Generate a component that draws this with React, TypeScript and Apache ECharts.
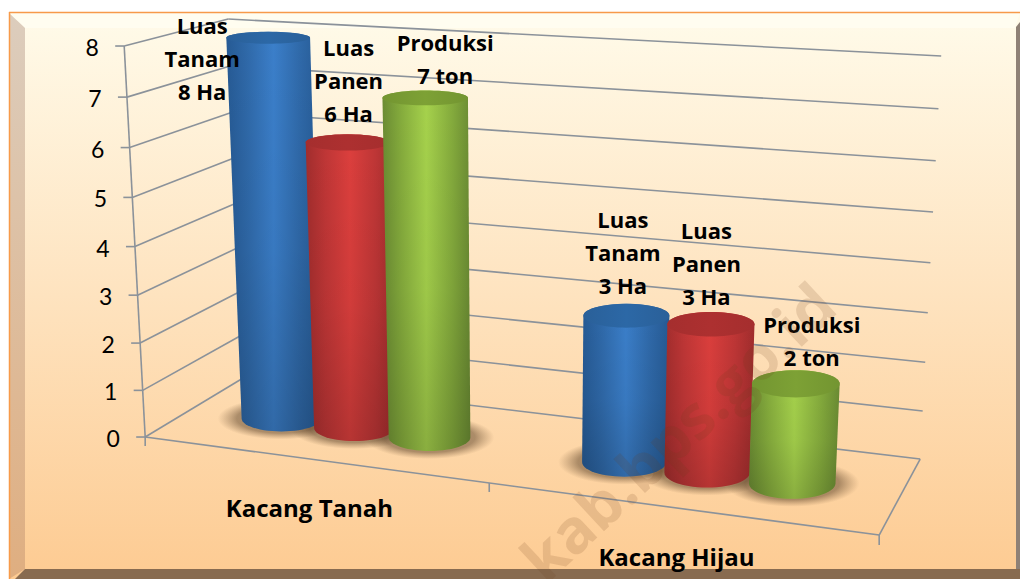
import React, { useEffect, useRef } from "react";
import * as echarts from "echarts";

const categories = ["Kacang Tanah", "Kacang Hijau"];
const yTicks = [0, 1, 2, 3, 4, 5, 6, 7, 8];
const luasTanam = [8, 3];
const luasPanen = [6, 3];
const produksi = [7, 2];
const tanamLabels = ["Luas\nTanam\n8 Ha", "Luas\nTanam\n3 Ha"];
const panenLabels = ["Luas\nPanen\n6 Ha", "Luas\nPanen\n3 Ha"];
const produksiLabels = ["Produksi\n7 ton", "Produksi\n2 ton"];

const FONT = "Lato, Carlito, 'Open Sans', sans-serif";
const BOLD_FONT = "'Open Sans', Lato, sans-serif";
const GRID = { left: 145, top: 46, width: 734, height: 391 };
type P = [number, number];
const CORNERS: Record<string, P> = {
  fb0: [145, 437], fb1: [879, 535], bb0: [243, 378], bb1: [920, 459],
  ft0: [124, 46], ft1: [900, 95], bt0: [228, 19], bt1: [941, 56],
};
const lerp = (a: number, b: number, t: number) => a + (b - a) * t;
const lerpP = (a: P, b: P, t: number): P => [lerp(a[0], b[0], t), lerp(a[1], b[1], t)];

// Perspective of the 3D box: u along categories, v up the value axis, w into the depth
const warpU = (u: number) => u - 0.031 + 0.125 * (u - 0.5) * (u - 0.5);
const warpV = (v: number) => v - 0.052 * v * (1 - v);
function project(uRaw: number, vRaw: number, w: number): P {
  const u = warpU(uRaw);
  const v = warpV(vRaw);
  const b = lerpP(lerpP(CORNERS.fb0, CORNERS.fb1, u), lerpP(CORNERS.bb0, CORNERS.bb1, u), w);
  const t = lerpP(lerpP(CORNERS.ft0, CORNERS.ft1, u), lerpP(CORNERS.bt0, CORNERS.bt1, u), w);
  return lerpP(b, t, v);
}
const normU = (x: number) => (x - GRID.left) / GRID.width;
const normV = (y: number) => (GRID.top + GRID.height - y) / GRID.height;

const AXIS_COLOR = "#8b929a";
const lineEl = (a: P, b: P, width = 1.6) => ({
  type: "line",
  shape: { x1: a[0], y1: a[1], x2: b[0], y2: b[1] },
  style: { stroke: AXIS_COLOR, lineWidth: width, fill: null },
  silent: true,
});

const BAR_STEP = 0.112;
const BAR_RX = 0.0582;
const BAR_RY = 0.21;

function cylinderGeom(api: any, step: number) {
  const c = api.coord([api.value(0), api.value(1)]);
  const u = normU(c[0]) + step * BAR_STEP + 0.0005;
  const v = normV(c[1]);
  const rOf = (vv: number) => {
    const centre = project(u, vv, 0.5);
    const span = project(1, vv, 0.5)[0] - project(0, vv, 0.5)[0];
    const f = project(u, vv, 0);
    const k = project(u, vv, 1);
    return { cx: centre[0], cy: centre[1], rx: span * BAR_RX * (0.95 + 0.12 * u), ry: (f[1] - k[1]) * BAR_RY };
  };
  return { top: rOf(v), base: rOf(0) };
}

const PALETTE = [
  { rim: "#265a94", edge: "#2f69a9", mid: "#3b7fca", cap: "#2a6099", capHi: "#2c68a6" },
  { rim: "#a12d2d", edge: "#bf3636", mid: "#dc3f3d", cap: "#a52e2e", capHi: "#ad3030" },
  { rim: "#6b8c33", edge: "#86ad3d", mid: "#a6d24c", cap: "#739531", capHi: "#7da135" },
];

function cylinderItem(step: number, colorIdx: number, labels: string[], dx: number[], dy: number[]) {
  return (params: any, api: any) => {
    const { top, base } = cylinderGeom(api, step);
    const pal = PALETTE[colorIdx];
    const pts: P[] = [];
    const N = 28;
    for (let i = 0; i <= N; i++) {
      const a = Math.PI - (Math.PI * i) / N;
      pts.push([top.cx + top.rx * Math.cos(a), top.cy - top.ry * Math.sin(a)]);
    }
    for (let i = 0; i <= N; i++) {
      const a = (Math.PI * i) / N;
      pts.push([base.cx + base.rx * Math.cos(a), base.cy + base.ry * Math.sin(a)]);
    }
    const idx = params.dataIndex;
    return {
      type: "group",
      children: [
        {
          type: "polygon",
          shape: { points: pts },
          style: {
            fill: new echarts.graphic.LinearGradient(0, 0, 1, 0, [
              { offset: 0, color: pal.rim },
              { offset: 0.22, color: pal.edge },
              { offset: 0.5, color: pal.mid },
              { offset: 0.78, color: pal.edge },
              { offset: 1, color: pal.rim },
            ]),
          },
          silent: true,
        },
        {
          type: "polygon",
          shape: { points: pts },
          style: {
            fill: new echarts.graphic.LinearGradient(0, 0, 0, 1, [
              { offset: 0, color: "rgba(0,0,0,0)" },
              { offset: 0.55, color: "rgba(0,0,0,0.05)" },
              { offset: 1, color: "rgba(0,0,0,0.17)" },
            ]),
          },
          silent: true,
        },
        {
          type: "ellipse",
          shape: { cx: top.cx, cy: top.cy, rx: top.rx, ry: top.ry },
          style: {
            fill: new echarts.graphic.LinearGradient(0, 0, 1, 0, [
              { offset: 0, color: pal.cap },
              { offset: 0.5, color: pal.capHi },
              { offset: 1, color: pal.cap },
            ]),
          },
          silent: true,
        },
        {
          type: "text",
          silent: true,
          style: {
            x: top.cx + dx[idx],
            y: top.cy + dy[idx],
            text: labels[idx],
            fill: "#000",
            font: `bold 22px ${BOLD_FONT}`,
            lineHeight: 33,
            align: "center",
            verticalAlign: "bottom",
          },
        },
      ],
    };
  };
}

function shadowItem(step: number) {
  return (_: any, api: any) => {
    const { base } = cylinderGeom(api, step);
    return {
      type: "ellipse",
      silent: true,
      shape: { cx: base.cx, cy: base.cy, rx: base.rx + 24, ry: base.ry + 8 },
      style: {
        fill: new echarts.graphic.RadialGradient(0.5, 0.5, 0.5, [
          { offset: 0, color: "rgba(85,60,35,0.6)" },
          { offset: 0.7, color: "rgba(90,65,40,0.5)" },
          { offset: 1, color: "rgba(120,90,60,0)" },
        ]),
      },
    };
  };
}

function gridItem(_: any, api: any) {
  const c = api.coord([0, api.value(1)]);
  const v = normV(c[1]);
  const f = project(0, v, 0);
  const b = project(0, v, 1);
  const r = project(1, v, 1);
  return {
    type: "group",
    children: [
      lineEl(f, b),
      lineEl(b, r),
      lineEl([f[0] - 9, f[1]], f),
      {
        type: "text",
        silent: true,
        style: {
          x: f[0] - 32,
          y: f[1] + 1,
          text: String(api.value(1)),
          fill: "#000",
          font: `23px ${FONT}`,
          align: "center",
          verticalAlign: "middle",
        },
      },
    ],
  };
}

function floorItem() {
  const a = project(0, 0, 0);
  const b = project(1, 0, 0);
  const d = project(1, 0, 1);
  const t = project(0, 1, 0);
  const m = project(0.5, 0, 0);
  return {
    type: "group",
    children: [
      lineEl(t, a),
      lineEl(a, b),
      lineEl(b, d),
      lineEl(a, [a[0], a[1] + 9]),
      lineEl(m, [m[0], m[1] + 9]),
      lineEl(b, [b[0], b[1] + 10]),
    ],
  };
}

function categoryItem(params: any, api: any) {
  const c = api.coord([api.value(0), 0]);
  const p = project(normU(c[0]), 0, 0);
  return {
    type: "text",
    silent: true,
    style: {
      x: p[0] - 2,
      y: p[1] + 48,
      text: categories[params.dataIndex],
      fill: "#000",
      font: `bold 24px ${BOLD_FONT}`,
      align: "center",
      verticalAlign: "middle",
    },
  };
}

const customBase = {
  type: "custom",
  coordinateSystem: "cartesian2d",
  clip: false,
  encode: { x: 0, y: 1 },
  silent: true,
};

const pairs = (vals: number[]) => vals.map((v, i) => [i, v]);

function buildOption() {
  const W = 1020;
  const H = 579;
  return {
    animation: false,
    backgroundColor: "#ffffff",
    grid: { ...GRID, containLabel: false },
    xAxis: { type: "category", data: categories, show: false },
    yAxis: { type: "value", min: 0, max: 8, interval: 1, show: false },
    graphic: [
      {
        type: "rect", z: -10, silent: true,
        shape: { x: 9, y: 12, width: W - 9, height: H - 12 },
        style: {
          fill: new echarts.graphic.LinearGradient(0, 0, 0, 1, [
            { offset: 0, color: "#fffbea" },
            { offset: 0.5, color: "#fee3bf" },
            { offset: 1, color: "#fdcb92" },
          ]),
        },
      },
      {
        type: "polygon", z: -9, silent: true,
        shape: { points: [[9, 13], [W, 13], [1015, 28], [25, 28]] },
        style: { fill: "#fffdf0" },
      },
      {
        type: "polygon", z: -9, silent: true,
        shape: { points: [[9, 13], [25, 28], [25, 569], [9, 579]] },
        style: {
          fill: new echarts.graphic.LinearGradient(0, 0, 0, 1, [
            { offset: 0, color: "#dccdbd" },
            { offset: 1, color: "#dfae80" },
          ]),
        },
      },
      {
        type: "polygon", z: -9, silent: true,
        shape: { points: [[25, 569], [W, 569], [W, H], [15, H]] },
        style: { fill: "#886b50" },
      },
      {
        type: "polygon", z: -9, silent: true,
        shape: { points: [[W, 22], [1016, 27], [1016, 569], [W, 569]] },
        style: { fill: "#8f8176" },
      },
      {
        type: "line", z: -8, silent: true,
        shape: { x1: 9, y1: 12.5, x2: W, y2: 12.5 },
        style: { stroke: "#f79a4a", lineWidth: 1.5 },
      },
      {
        type: "line", z: -8, silent: true,
        shape: { x1: 9.5, y1: 12, x2: 9.5, y2: H },
        style: { stroke: "#f79a4a", lineWidth: 1.5 },
      },
      {
        type: "text", z: 100, silent: true,
        x: 677, y: 431, rotation: (43 * Math.PI) / 180,
        style: {
          text: "kab.bps.go.id",
          fill: "rgba(110,60,30,0.15)",
          font: `bold 61px ${BOLD_FONT}`,
          align: "center",
          verticalAlign: "middle",
        },
      },
    ],
    series: [
      { ...customBase, name: "grid", data: yTicks.map((t) => [0, t]), renderItem: gridItem, z: 2 },
      { ...customBase, name: "floor", data: [[0, 0]], renderItem: floorItem, z: 2 },
      { ...customBase, name: "category", data: pairs([0, 0]), renderItem: categoryItem, z: 2 },
      { ...customBase, name: "s1", data: pairs(luasTanam), renderItem: shadowItem(-1), z: 3 },
      { ...customBase, name: "s2", data: pairs(luasPanen), renderItem: shadowItem(0), z: 3 },
      { ...customBase, name: "s3", data: pairs(produksi), renderItem: shadowItem(1), z: 3 },
      {
        ...customBase, name: "Luas Tanam", data: pairs(luasTanam), z: 4,
        renderItem: cylinderItem(-1, 0, tanamLabels, [-66, -3.5], [69.5, -14]),
      },
      {
        ...customBase, name: "Luas Panen", data: pairs(luasPanen), z: 5,
        renderItem: cylinderItem(0, 1, panenLabels, [1, -4.5], [-12.5, -11.5]),
      },
      {
        ...customBase, name: "Produksi", data: pairs(produksi), z: 6,
        renderItem: cylinderItem(1, 2, produksiLabels, [20, 16], [-6, -10]),
      },
    ],
  };
}

export default function App() {
  const ref = useRef<HTMLDivElement>(null);
  useEffect(() => {
    const chart = echarts.init(ref.current!, null, { renderer: "svg" });
    chart.setOption(buildOption() as any);
    return () => chart.dispose();
  }, []);
  return <div ref={ref} style={{ position: "fixed", left: 0, top: 0, width: 1020, height: 579 }} />;
}
